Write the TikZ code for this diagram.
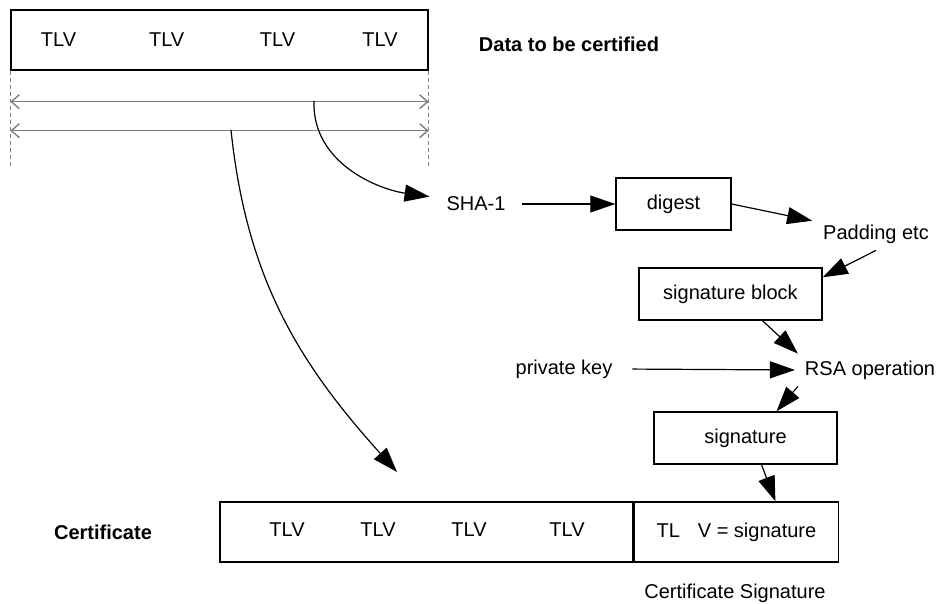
\documentclass[tikz,border=0pt]{standalone}
\usepackage{fontspec}
\setmainfont{Liberation Sans}
\usetikzlibrary{arrows.meta,positioning}

\begin{document}
\begin{tikzpicture}[
  x=0.5pt,y=-0.5pt,
  field/.style={draw,line width=0.7pt,minimum height=26pt,inner sep=0pt,align=center},
  flow/.style={line width=0.6pt,-{Triangle[length=12.5pt,width=8.5pt]}},
  span/.style={black!50,line width=0.7pt,{Straight Barb[length=4pt,width=7pt]}-{Straight Barb[length=4pt,width=7pt]}},
  guide/.style={black!50,line width=0.6pt,dash pattern=on 2pt off 1.5pt}
]
  \useasboundingbox (0,0) rectangle (942,604);

  \node[field,minimum width=208.5pt,minimum height=30pt] (data) at (219.5,40) {};
  \foreach \i/\x in {1/58.5,2/166.7,3/277.5,4/380}
    \node (dt\i) at (\x,40) {TLV};
  \node[font=\bfseries] (title) at (569,44) {Data to be certified};

  \node (sha) at (476,204) {SHA-1};
  \node[field,minimum width=57.5pt] (digest) at (673.5,204) {digest};
  \node (pad) at (876,234) {Padding etc};
  \node[field,minimum width=91.5pt] (sblock) at (730.5,294) {signature block};
  \node (key) at (564,369) {private key};
  \node (rsa) at (870,370) {RSA operation};
  \node[field,minimum width=91.5pt] (sig) at (745.5,438) {signature};

  \node[field,minimum width=206.5pt,minimum height=30pt] (cert) at (426.5,532) {};
  \foreach \i/\x in {1/287,2/378,3/469,4/567}
    \node (ct\i) at (\x,530) {TLV};
  \node[field,minimum width=102pt,minimum height=30pt,right=0pt of cert] (sigcell) {TL\hspace{9pt}V = signature};
  \node[font=\bfseries] (certlabel) at (103,532) {Certificate};
  \node (siglabel) at (735,593) {Certificate Signature};

  \draw[guide] (data.south west) -- ++(0,95);
  \draw[guide] (data.south east) -- ++(0,95);
  \draw[span] ([yshift=-15.5pt]data.south west) -- ([yshift=-15.5pt]data.south east);
  \draw[span] ([yshift=-30pt]data.south west) -- ([yshift=-30pt]data.south east);

  \coordinate (tap1) at (314,101);
  \coordinate (tap2) at (231,130);
  \coordinate (drop) at (397,472);

  \draw[flow,shorten >=5pt] (tap1) to[out=-92,in=172] ([yshift=3pt]sha.west);
  \draw[flow] (tap2) to[out=-84,in=132] (drop);
  \draw[flow,shorten <=4.5pt] (sha.east) -- (digest.west);
  \draw[flow,shorten >=2pt] (digest.east) -- (pad);
  \draw[flow] (pad.south) -- ([yshift=-5pt]sblock.north east);
  \draw[flow] ([xshift=16pt]sblock.south) -- (rsa.north west);
  \draw[flow,shorten <=6.5pt,shorten >=1.5pt] (key.east) -- (rsa.west);
  \draw[flow] (rsa.south west) -- ([xshift=15.5pt]sig.north);
  \draw[flow] ([xshift=8pt]sig.south) -- ([xshift=19.5pt]sigcell.north);
\end{tikzpicture}
\end{document}
